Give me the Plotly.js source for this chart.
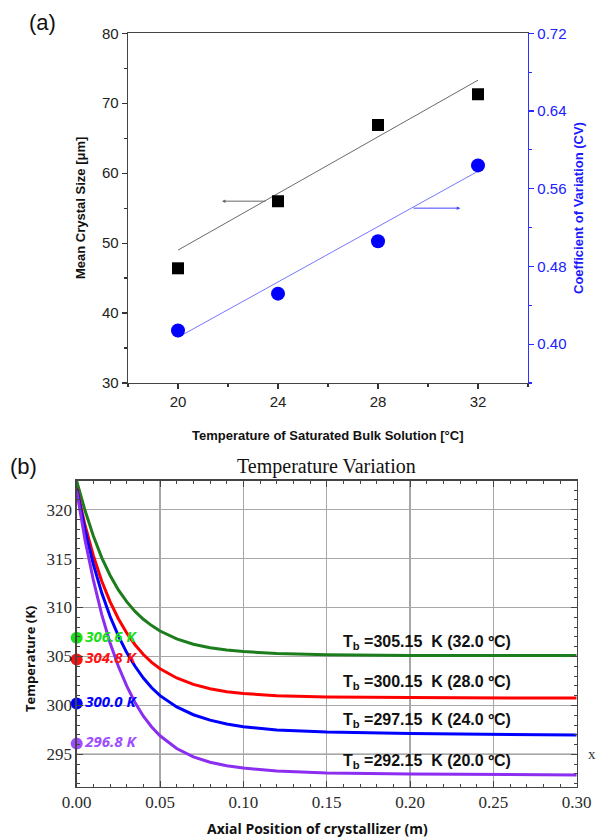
<!DOCTYPE html>
<html><head><meta charset="utf-8">
<script src="https://cdn.plot.ly/plotly-3.0.1.min.js"></script>
<style>html,body{margin:0;padding:0;background:#fff}#chart{width:596px;height:839px}</style>
</head><body><div id="chart"></div>
<script>
// ---------- Panel (a) data ----------
const satTemp = [20, 24, 28, 32];
const meanSize = [46.4, 56.0, 66.9, 71.3];
const cvValues = [0.414, 0.452, 0.506, 0.584];
const fitX = [20, 32];
const sizeFit = [49.0, 73.3];
const cvFit = [0.407, 0.578];

// ---------- Panel (b) data ----------
const axialPos = [0, 0.005, 0.01, 0.015, 0.02, 0.025, 0.03, 0.035, 0.04, 0.045, 0.05, 0.06, 0.07, 0.08, 0.09, 0.10, 0.12, 0.15, 0.20, 0.25, 0.30];
const temp32C = [322.9, 319.9, 317.3, 315.1, 313.3, 311.8, 310.6, 309.6, 308.8, 308.15, 307.6, 306.8, 306.25, 305.9, 305.65, 305.5, 305.3, 305.17, 305.1, 305.1, 305.1];
const temp28C = [322.2, 318.4, 315.3, 312.7, 310.6, 308.85, 307.4, 306.2, 305.2, 304.4, 303.75, 302.8, 302.15, 301.7, 301.4, 301.22, 300.98, 300.85, 300.8, 300.78, 300.75];
const temp24C = [322.1, 317.9, 314.4, 311.5, 309.1, 307.1, 305.4, 304.0, 302.8, 301.8, 301.0, 299.85, 299.05, 298.5, 298.1, 297.82, 297.5, 297.28, 297.13, 297.08, 296.98];
const temp20C = [321.9, 316.9, 312.8, 309.3, 306.4, 304.0, 302.0, 300.3, 298.9, 297.8, 296.9, 295.6, 294.75, 294.2, 293.85, 293.6, 293.3, 293.1, 293.0, 292.95, 292.9];
const curveColors = ['#1b7d1b', '#ff0000', '#0000ff', '#8b2ef0'];
const startTemps = [306.9, 304.7, 300.2, 296.1];
const startLabels = ['306.6 K', '304.8 K', '300.0 K', '296.8 K'];
const dotColors = ['#18e018', '#ff1010', '#0000ff', '#9d4dff'];
const tbLabels = ['T<sub>b</sub> =305.15 \u00a0K (32.0 ºC)', 'T<sub>b</sub> =300.15 \u00a0K (28.0 ºC)', 'T<sub>b</sub> =297.15 \u00a0K (24.0 ºC)', 'T<sub>b</sub> =292.15 \u00a0K (20.0 ºC)'];
const tbY = [306.4, 302.3, 298.45, 294.3];

const W = 596, H = 839;
const px = v => v / W;
const py = v => 1 - v / H;

const sans = 'Liberation Sans, Arial, sans-serif';
const serif = 'Liberation Serif, Times New Roman, serif';
const open = 'Open Sans, Noto Sans, sans-serif';

const traces = [
  {x: fitX, y: sizeFit, xaxis: 'x', yaxis: 'y', mode: 'lines', line: {color: '#6a6a6a', width: 1}, hoverinfo: 'skip'},
  {x: satTemp, y: meanSize, xaxis: 'x', yaxis: 'y', mode: 'markers', marker: {symbol: 'square', size: 12, color: '#000'}},
  {x: fitX, y: cvFit, xaxis: 'x', yaxis: 'y2', mode: 'lines', line: {color: '#7777ff', width: 1}, hoverinfo: 'skip'},
  {x: satTemp, y: cvValues, xaxis: 'x', yaxis: 'y2', mode: 'markers', marker: {symbol: 'circle', size: 14, color: '#0000ff'}},
];
[temp32C, temp28C, temp24C, temp20C].forEach((t, i) => {
  traces.push({x: axialPos, y: t, xaxis: 'x3', yaxis: 'y3', mode: 'lines',
    line: {color: curveColors[i], width: 3, shape: 'linear'}});
});
traces.push({x: startTemps.map(() => 0), y: startTemps, xaxis: 'x3', yaxis: 'y3', mode: 'markers+text',
  marker: {size: 12, color: dotColors}, text: startLabels, textposition: 'middle right',
  textfont: {family: open, size: 15, color: dotColors, style: 'italic', weight: 'bold'}, cliponaxis: false});

const tickA = {family: sans, size: 15, color: '#222'};
const ann = (x, y, text, font, extra) => Object.assign({x: px(x), y: py(y), xref: 'paper', yref: 'paper',
  xanchor: 'center', yanchor: 'middle', text: text, showarrow: false, font: font}, extra || {});

const layout = {
  width: W, height: H, margin: {l: 0, r: 0, t: 0, b: 0}, showlegend: false,
  paper_bgcolor: '#fff', plot_bgcolor: 'rgba(0,0,0,0)',
  xaxis: {domain: [px(128), px(528)], anchor: 'y', range: [18, 34], tick0: 20, dtick: 4,
    ticks: 'outside', ticklen: 5, tickwidth: 1.2, tickcolor: '#333', showline: true, linecolor: '#444', linewidth: 1.3,
    mirror: true, showgrid: false, zeroline: false, tickfont: tickA,
    minor: {tick0: 18, dtick: 2, ticks: 'outside', ticklen: 3, tickcolor: '#333', showgrid: false}},
  yaxis: {domain: [py(383), py(33.3)], anchor: 'x', range: [30, 80], dtick: 10, ticks: 'outside', ticklen: 5, tickwidth: 1.2,
    tickcolor: '#333', showline: true, linecolor: '#444', linewidth: 1.3, showgrid: false, zeroline: false, tickfont: tickA,
    minor: {dtick: 5, ticks: 'outside', ticklen: 3, tickcolor: '#333', showgrid: false}},
  yaxis2: {overlaying: 'y', side: 'right', anchor: 'x', range: [0.36, 0.72], tick0: 0.40, dtick: 0.08, tickformat: '.2f',
    ticks: 'outside', ticklen: 5, tickwidth: 1.2, tickcolor: '#2a2aff', showline: true, linecolor: '#3030ff', linewidth: 1.3,
    showgrid: false, zeroline: false, tickfont: {family: sans, size: 15, color: '#2020ff'},
    minor: {tick0: 0.36, dtick: 0.04, ticks: 'outside', ticklen: 3, tickcolor: '#2a2aff', showgrid: false}},
  xaxis3: {domain: [px(76.7), px(576.7)], anchor: 'y3', range: [0, 0.30], dtick: 0.05, tickformat: '.2f',
    ticks: 'inside', ticklen: 6, tickwidth: 1, tickcolor: '#444', showline: true, linecolor: '#444', linewidth: 1.3,
    mirror: 'ticks', showgrid: true, gridcolor: '#a8a8a8', gridwidth: 1.2, zeroline: false,
    tickfont: {family: serif, size: 17, color: '#2b2b2b'},
    minor: {dtick: 0.01, ticks: 'inside', ticklen: 3, tickcolor: '#444', showgrid: false}},
  yaxis3: {domain: [py(786.7), py(480.7)], anchor: 'x3', range: [291.7, 322.95], tick0: 295, dtick: 5,
    ticks: 'inside', ticklen: 6, tickwidth: 1, tickcolor: '#444', showline: true, linecolor: '#444', linewidth: 1.3,
    mirror: 'ticks', showgrid: true, gridcolor: '#a8a8a8', gridwidth: 1.2, zeroline: false,
    tickfont: {family: serif, size: 17, color: '#2b2b2b'},
    minor: {dtick: 1, ticks: 'inside', ticklen: 3, tickcolor: '#444', showgrid: false}},
  shapes: [
    {type: 'line', xref: 'x3', yref: 'y3', x0: 0, x1: 0.30, y0: 295, y1: 295, line: {color: '#222', width: 1.3}, layer: 'below'}
  ],
  annotations: [
    {x: 21.76, y: 56, ax: 23.56, ay: 56, xref: 'x', yref: 'y', axref: 'x', ayref: 'y', text: '', showarrow: true,
      arrowhead: 2, arrowsize: 0.7, arrowwidth: 1, arrowcolor: '#666'},
    {x: 31.29, y: 0.54, ax: 29.36, ay: 0.54, xref: 'x', yref: 'y2', axref: 'x', ayref: 'y2', text: '', showarrow: true,
      arrowhead: 2, arrowsize: 0.7, arrowwidth: 1, arrowcolor: '#4444ff'},
    ann(42.5, 23, '(a)', {family: sans, size: 22, color: '#111'}),
    ann(23, 466.5, '(b)', {family: sans, size: 22, color: '#111'}),
    ann(80, 208, '<b>Mean Crystal Size [μm]</b>', {family: sans, size: 13, color: '#111'}, {textangle: -90}),
    ann(578, 208, '<b>Coefficient of Variation (CV)</b>', {family: sans, size: 13, color: '#1a1aff'}, {textangle: -90}),
    ann(327, 435, '<b>Temperature of Saturated Bulk Solution [°C]</b>', {family: sans, size: 13, color: '#111'}),
    ann(326.7, 466.7, 'Temperature Variation', {family: serif, size: 20, color: '#111'}),
    ann(30, 659, '<b>Temperature (K)</b>', {family: open, size: 13, color: '#111'}, {textangle: -90}),
    ann(318, 828.5, '<b>Axial Position of crystallizer (m)</b>', {family: open, size: 14, color: '#111'}),
    ann(592, 754, 'x', {family: serif, size: 15, color: '#333'})
  ]
};
tbLabels.forEach((t, i) => {
  layout.annotations.push({x: 0.2104, y: tbY[i], xref: 'x3', yref: 'y3', text: '<b>' + t + '</b>', showarrow: false,
    font: {family: sans, size: 16, color: '#111'}});
});

Plotly.newPlot('chart', traces, layout, {displayModeBar: false, staticPlot: true});
</script>
</body></html>
